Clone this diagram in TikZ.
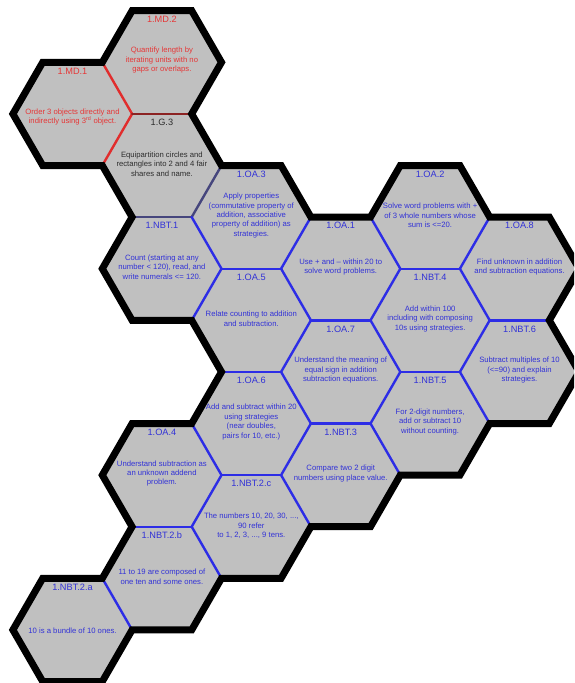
\documentclass[tikz,border=0pt]{standalone}
\usepackage{fontspec}
\setmainfont{Liberation Sans}
\usetikzlibrary{calc}
\definecolor{hexgrey}{RGB}{192,192,192}
\definecolor{hexblue}{RGB}{45,45,230}
\definecolor{txtblue}{RGB}{50,50,215}
\definecolor{hexred}{RGB}{225,45,45}
\definecolor{txtred}{RGB}{230,55,55}
\definecolor{edgedarkred}{RGB}{140,35,35}
\definecolor{edgeslate}{RGB}{70,70,125}
\definecolor{txtblack}{RGB}{45,45,45}
\newcommand\hexat[3]{%
 \coordinate (#1) at ({72.5+89.4*#2},{62.3+51.6*#3});
 \coordinate (#1-R) at ($(#1)+(59.6,0)$);
 \coordinate (#1-UR) at ($(#1)+(29.8,-51.6)$);
 \coordinate (#1-UL) at ($(#1)+(-29.8,-51.6)$);
 \coordinate (#1-L) at ($(#1)+(-59.6,0)$);
 \coordinate (#1-DL) at ($(#1)+(-29.8,51.6)$);
 \coordinate (#1-DR) at ($(#1)+(29.8,51.6)$);
 \fill[hexgrey] (#1-R) -- (#1-UR) -- (#1-UL) -- (#1-L) -- (#1-DL) -- (#1-DR) -- cycle;
}
\tikzset{
 inedge/.style={line width=2.4pt, line cap=round},
 inblue/.style={inedge, draw=hexblue},
 inred/.style={inedge, draw=hexred},
 indarkred/.style={inedge, draw=edgedarkred},
 inslate/.style={inedge, draw=edgeslate},
 outline/.style={draw=black, line width=7pt, line join=miter},
 code/.style={font=\fontsize{9.2}{11}\selectfont, inner sep=0pt},
 body/.style={font=\fontsize{7.7}{9.4}\selectfont, align=center, inner sep=0pt},
}
\begin{document}
\begin{tikzpicture}[x=1pt,y=-1pt]
\fill[white] (0,0) rectangle (574,683);
\useasboundingbox (0,0) rectangle (574,683);
\clip (0,0) rectangle (574,683);
% hexagons
\hexat{md1}{0}{1}
\hexat{nbt2a}{0}{11}
\hexat{md2}{1}{0}
\hexat{g3}{1}{2}
\hexat{nbt1}{1}{4}
\hexat{oa4}{1}{8}
\hexat{nbt2b}{1}{10}
\hexat{oa3}{2}{3}
\hexat{oa5}{2}{5}
\hexat{oa6}{2}{7}
\hexat{nbt2c}{2}{9}
\hexat{oa1}{3}{4}
\hexat{oa7}{3}{6}
\hexat{nbt3}{3}{8}
\hexat{oa2}{4}{3}
\hexat{nbt4}{4}{5}
\hexat{nbt5}{4}{7}
\hexat{oa8}{5}{4}
\hexat{nbt6}{5}{6}
% internal edges
\draw[inred] (md1-R) -- (md1-UR);
\draw[inred] (md1-R) -- (md1-DR);
\draw[indarkred] (md2-DL) -- (md2-DR);
\draw[inslate] (g3-DL) -- (g3-DR);
\draw[inslate] (g3-R) -- (g3-DR);
\draw[inblue] (nbt1-R) -- (nbt1-UR);
\draw[inblue] (nbt1-R) -- (nbt1-DR);
\draw[inblue] (oa4-R) -- (oa4-UR);
\draw[inblue] (oa4-R) -- (oa4-DR);
\draw[inblue] (oa4-DL) -- (oa4-DR);
\draw[inblue] (nbt2b-R) -- (nbt2b-UR);
\draw[inblue] (nbt2a-R) -- (nbt2a-UR);
\draw[inblue] (oa3-DL) -- (oa3-DR);
\draw[inblue] (oa3-R) -- (oa3-DR);
\draw[inblue] (oa5-DL) -- (oa5-DR);
\draw[inblue] (oa5-R) -- (oa5-UR);
\draw[inblue] (oa5-R) -- (oa5-DR);
\draw[inblue] (oa6-DL) -- (oa6-DR);
\draw[inblue] (oa6-R) -- (oa6-UR);
\draw[inblue] (oa6-R) -- (oa6-DR);
\draw[inblue] (nbt2c-R) -- (nbt2c-UR);
\draw[inblue] (oa1-DL) -- (oa1-DR);
\draw[inblue] (oa1-R) -- (oa1-UR);
\draw[inblue] (oa1-R) -- (oa1-DR);
\draw[inblue] (oa7-DL) -- (oa7-DR);
\draw[inblue] (oa7-R) -- (oa7-UR);
\draw[inblue] (oa7-R) -- (oa7-DR);
\draw[inblue] (nbt3-R) -- (nbt3-UR);
\draw[inblue] (oa2-DL) -- (oa2-DR);
\draw[inblue] (oa2-R) -- (oa2-DR);
\draw[inblue] (nbt4-DL) -- (nbt4-DR);
\draw[inblue] (nbt4-R) -- (nbt4-UR);
\draw[inblue] (nbt4-R) -- (nbt4-DR);
\draw[inblue] (nbt5-R) -- (nbt5-UR);
\draw[inblue] (oa8-DL) -- (oa8-DR);
% outer boundary
\draw[outline] (md2-UL) -- (md2-UR) -- (md2-R) -- (md2-DR) -- (g3-R) -- (oa3-UR) -- (oa3-R)
 -- (oa1-UR) -- (oa2-UL) -- (oa2-UR) -- (oa2-R) -- (oa8-UR) -- (oa8-R) -- (oa8-DR)
 -- (nbt6-R) -- (nbt6-DR) -- (nbt6-DL) -- (nbt5-DR) -- (nbt5-DL) -- (nbt3-DR) -- (nbt3-DL)
 -- (nbt2c-DR) -- (nbt2c-DL) -- (nbt2b-DR) -- (nbt2b-DL) -- (nbt2a-DR) -- (nbt2a-DL)
 -- (nbt2a-L) -- (nbt2a-UL) -- (nbt2a-UR) -- (nbt2b-UL) -- (oa4-L) -- (oa4-UL) -- (oa4-UR)
 -- (oa6-UL) -- (oa5-L) -- (nbt1-DL) -- (nbt1-L) -- (nbt1-UL) -- (g3-L) -- (md1-DL)
 -- (md1-L) -- (md1-UL) -- (md1-UR) -- cycle;
% texts
\node[code, text=txtred] (md2-code) at ($(md2)+(0,-43)$) {1.MD.2};
\node[body, text=txtred] (md2-text) at ($(md2)+(0,-2)$) {Quantify length by\\iterating units with no\\gaps or overlaps.};
\node[code, text=txtred] (md1-code) at ($(md1)+(0,-43)$) {1.MD.1};
\node[body, text=txtred] (md1-text) at ($(md1)+(0,3)$) {Order 3 objects directly and\\indirectly using 3\textsuperscript{rd} object.};
\node[code, text=txtblack] (g3-code) at ($(g3)+(0,-43)$) {1.G.3};
\node[body, text=txtblack] (g3-text) at ($(g3)+(0,-1.5)$) {Equipartition circles and\\rectangles into 2 and 4 fair\\shares and name.};
\node[code, text=txtblue] (oa3-code) at ($(oa3)+(0,-43)$) {1.OA.3};
\node[body, text=txtblue] (oa3-text) at ($(oa3)+(0,-1.5)$) {Apply properties\\(commutative property of\\addition, associative\\property of addition) as\\strategies.};
\node[code, text=txtblue] (nbt1-code) at ($(nbt1)+(0,-43)$) {1.NBT.1};
\node[body, text=txtblue] (nbt1-text) at ($(nbt1)+(0,-1.5)$) {Count (starting at any\\number < 120), read, and\\write numerals <= 120.};
\node[code, text=txtblue] (oa5-code) at ($(oa5)+(0,-43)$) {1.OA.5};
\node[body, text=txtblue] (oa5-text) at ($(oa5)+(0,-1.5)$) {Relate counting to addition\\and subtraction.};
\node[code, text=txtblue] (oa1-code) at ($(oa1)+(0,-43)$) {1.OA.1};
\node[body, text=txtblue] (oa1-text) at ($(oa1)+(0,-1.5)$) {Use + and – within 20 to\\solve word problems.};
\node[code, text=txtblue] (oa2-code) at ($(oa2)+(0,-43)$) {1.OA.2};
\node[body, text=txtblue] (oa2-text) at ($(oa2)+(0,-1.5)$) {Solve word problems with +\\of 3 whole numbers whose\\sum is <=20.};
\node[code, text=txtblue] (oa8-code) at ($(oa8)+(0,-43)$) {1.OA.8};
\node[body, text=txtblue] (oa8-text) at ($(oa8)+(0,-1.5)$) {Find unknown in addition\\and subtraction equations.};
\node[code, text=txtblue] (nbt4-code) at ($(nbt4)+(0,-43)$) {1.NBT.4};
\node[body, text=txtblue] (nbt4-text) at ($(nbt4)+(0,-1.5)$) {Add within 100\\including with composing\\10s using strategies.};
\node[code, text=txtblue] (oa7-code) at ($(oa7)+(0,-43)$) {1.OA.7};
\node[body, text=txtblue] (oa7-text) at ($(oa7)+(0,-1.5)$) {Understand the meaning of\\equal sign in addition\\subtraction equations.};
\node[code, text=txtblue] (nbt6-code) at ($(nbt6)+(0,-43)$) {1.NBT.6};
\node[body, text=txtblue] (nbt6-text) at ($(nbt6)+(0,-1.5)$) {Subtract multiples of 10\\(<=90) and explain\\strategies.};
\node[code, text=txtblue] (nbt5-code) at ($(nbt5)+(0,-43)$) {1.NBT.5};
\node[body, text=txtblue] (nbt5-text) at ($(nbt5)+(0,-1.5)$) {For 2-digit numbers,\\add or subtract 10\\without counting.};
\node[code, text=txtblue] (oa6-code) at ($(oa6)+(0,-43)$) {1.OA.6};
\node[body, text=txtblue] (oa6-text) at ($(oa6)+(0,-1.5)$) {Add and subtract within 20\\using strategies\\(near doubles,\\pairs for 10, etc.)};
\node[code, text=txtblue] (nbt3-code) at ($(nbt3)+(0,-43)$) {1.NBT.3};
\node[body, text=txtblue] (nbt3-text) at ($(nbt3)+(0,-1.5)$) {Compare two 2 digit\\numbers using place value.};
\node[code, text=txtblue] (oa4-code) at ($(oa4)+(0,-43)$) {1.OA.4};
\node[body, text=txtblue] (oa4-text) at ($(oa4)+(0,-1.5)$) {Understand subtraction as\\an unknown addend\\problem.};
\node[code, text=txtblue] (nbt2c-code) at ($(nbt2c)+(0,-43)$) {1.NBT.2.c};
\node[body, text=txtblue] (nbt2c-text) at ($(nbt2c)+(0,-1)$) {The numbers 10, 20, 30, ...,\\90 refer\\to 1, 2, 3, ..., 9 tens.};
\node[code, text=txtblue] (nbt2b-code) at ($(nbt2b)+(0,-43)$) {1.NBT.2.b};
\node[body, text=txtblue] (nbt2b-text) at ($(nbt2b)+(0,-1.5)$) {11 to 19 are composed of\\one ten and some ones.};
\node[code, text=txtblue] (nbt2a-code) at ($(nbt2a)+(0,-43)$) {1.NBT.2.a};
\node[body, text=txtblue] (nbt2a-text) at ($(nbt2a)+(0,1)$) {10 is a bundle of 10 ones.};
\end{tikzpicture}
\end{document}
